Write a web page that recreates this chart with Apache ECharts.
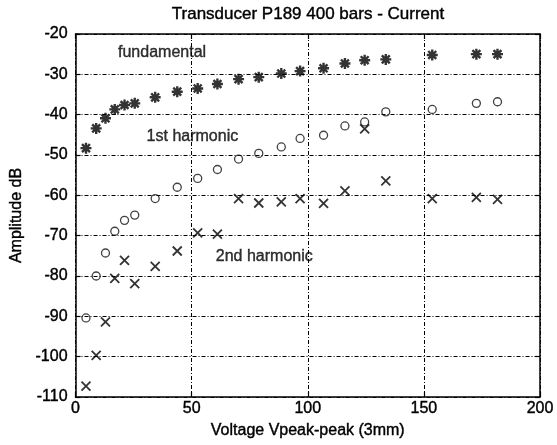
<!DOCTYPE html>
<html>
<head>
<meta charset="utf-8">
<script src="https://cdn.jsdelivr.net/npm/echarts@6/dist/echarts.min.js"></script>
<style>
  html, body { margin: 0; padding: 0; background: #fff; }
  #chart { width: 557px; height: 445px; }
</style>
</head>
<body>
<div id="chart"></div>
<script>
// Drive voltage (Vpeak-peak), shared by all three measured components
const voltage = [4.5, 8.9, 12.9, 16.9, 21.1, 25.5, 34.3, 43.8, 52.6, 61.1, 70.2,
                 78.9, 88.6, 96.7, 106.8, 116.0, 124.5, 133.6, 153.6, 172.6, 181.7];

// Amplitudes in dB
const fundamental = [-48.3, -43.4, -40.9, -38.7, -37.6, -37.2, -35.7, -34.3, -33.5, -32.4, -31.2,
                     -30.7, -29.8, -29.2, -28.5, -27.3, -26.5, -26.3, -25.2, -25.0, -25.0];
const harmonic1 = [-90.4, -80.0, -74.3, -68.9, -66.2, -64.9, -60.8, -58.0, -55.8, -53.6, -51.0,
                   -49.6, -48.0, -45.9, -45.1, -42.8, -41.8, -39.3, -38.7, -37.2, -36.8];
const harmonic2 = [-107.3, -99.7, -91.4, -80.6, -76.1, -81.9, -77.6, -73.8, -69.3, -69.6, -60.8,
                   -61.9, -61.6, -60.8, -62.0, -58.9, -43.5, -56.4, -60.8, -60.5, -61.0];

// Curve annotations: text and anchor (left edge, vertical centre) in data units
const noteText = ['fundamental', '1st harmonic', '2nd harmonic'];
const noteX = [18.3, 30.6, 60.4];
const noteY = [-24.7, -45.5, -75.3];

// Axis ranges and tick spacing
const xMin = 0, xMax = 200, xStep = 50;
const yMin = -110, yMax = -20, yStep = 10;

const FONT = '"Liberation Sans", Arial, Helvetica, sans-serif';
const gridDash = [4, 2, 1, 2];
// a hairline outline gives the text a slightly heavier print
const ink = { color: '#000', textBorderColor: '#000', textBorderWidth: 0.4 };

const pairs = (ys) => voltage.map((v, i) => [v, ys[i]]);

const asterisk = 'path://M5,0L5,10M0,5L10,5M1.4,1.4L8.6,8.6M8.6,1.4L1.4,8.6';
const cross = 'path://M0,0L10,10M10,0L0,10';

const chart = echarts.init(document.getElementById('chart'), null, { renderer: 'canvas' });

const baseX = {
  type: 'value', min: xMin, max: xMax, interval: xStep,
  axisLine: { show: true, onZero: false, lineStyle: { color: '#000', width: 1.5 } },
  axisTick: { show: true, inside: true, length: 5, lineStyle: { color: '#000', width: 1.2 } },
  splitLine: { show: false }
};
const baseY = {
  type: 'value', min: yMin, max: yMax, interval: yStep,
  axisLine: { show: true, onZero: false, lineStyle: { color: '#000', width: 1.5 } },
  axisTick: { show: true, inside: true, length: 5, lineStyle: { color: '#000', width: 1.2 } },
  splitLine: { show: false }
};

chart.setOption({
  backgroundColor: '#fff',
  animation: false,
  title: {
    text: 'Transducer P189 400 bars - Current',
    left: 303, top: 1, textAlign: 'center',
    textStyle: Object.assign({ fontFamily: FONT, fontSize: 17, fontWeight: 'normal' }, ink)
  },
  grid: { left: 70, right: 17, top: 34, bottom: 48, containLabel: false },
  xAxis: [
    Object.assign({}, baseX, {
      position: 'bottom',
      name: 'Voltage Vpeak-peak (3mm)',
      nameLocation: 'middle', nameGap: 19,
      nameTextStyle: Object.assign({ fontFamily: FONT, fontSize: 16 }, ink),
      axisLabel: Object.assign({ show: true, margin: 4, fontFamily: FONT, fontSize: 16 }, ink),
      splitLine: { show: true, lineStyle: { color: '#000', width: 1, type: gridDash } }
    }),
    Object.assign({}, baseX, { position: 'top', axisLabel: { show: false } })
  ],
  yAxis: [
    Object.assign({}, baseY, {
      position: 'left',
      name: 'Amplitude dB',
      nameLocation: 'middle', nameGap: 39,
      nameTextStyle: Object.assign({ fontFamily: FONT, fontSize: 16 }, ink),
      axisLabel: Object.assign({ show: true, margin: 8, fontFamily: FONT, fontSize: 16 }, ink),
      splitLine: { show: true, lineStyle: { color: '#000', width: 1, type: gridDash } }
    }),
    Object.assign({}, baseY, { position: 'right', axisLabel: { show: false } })
  ],
  series: [
    {
      name: 'fundamental', type: 'scatter', data: pairs(fundamental),
      symbol: asterisk, symbolSize: 11,
      itemStyle: { color: 'rgba(0,0,0,0)', borderColor: '#000', borderWidth: 2.4 }
    },
    {
      name: '1st harmonic', type: 'scatter', data: pairs(harmonic1),
      symbol: 'circle', symbolSize: 8,
      itemStyle: { color: 'rgba(0,0,0,0)', borderColor: '#111', borderWidth: 1.3 }
    },
    {
      name: '2nd harmonic', type: 'scatter', data: pairs(harmonic2),
      symbol: cross, symbolSize: 9,
      itemStyle: { color: 'rgba(0,0,0,0)', borderColor: '#000', borderWidth: 1.8 }
    },
    {
      name: 'notes', type: 'scatter', symbolSize: 0, silent: true,
      data: noteText.map((t, i) => ({ name: t, value: [noteX[i], noteY[i]] })),
      label: Object.assign({
        show: true, position: 'right', distance: 0,
        formatter: (p) => p.name,
        fontFamily: FONT, fontSize: 16
      }, ink)
    }
  ]
});
</script>
</body>
</html>
